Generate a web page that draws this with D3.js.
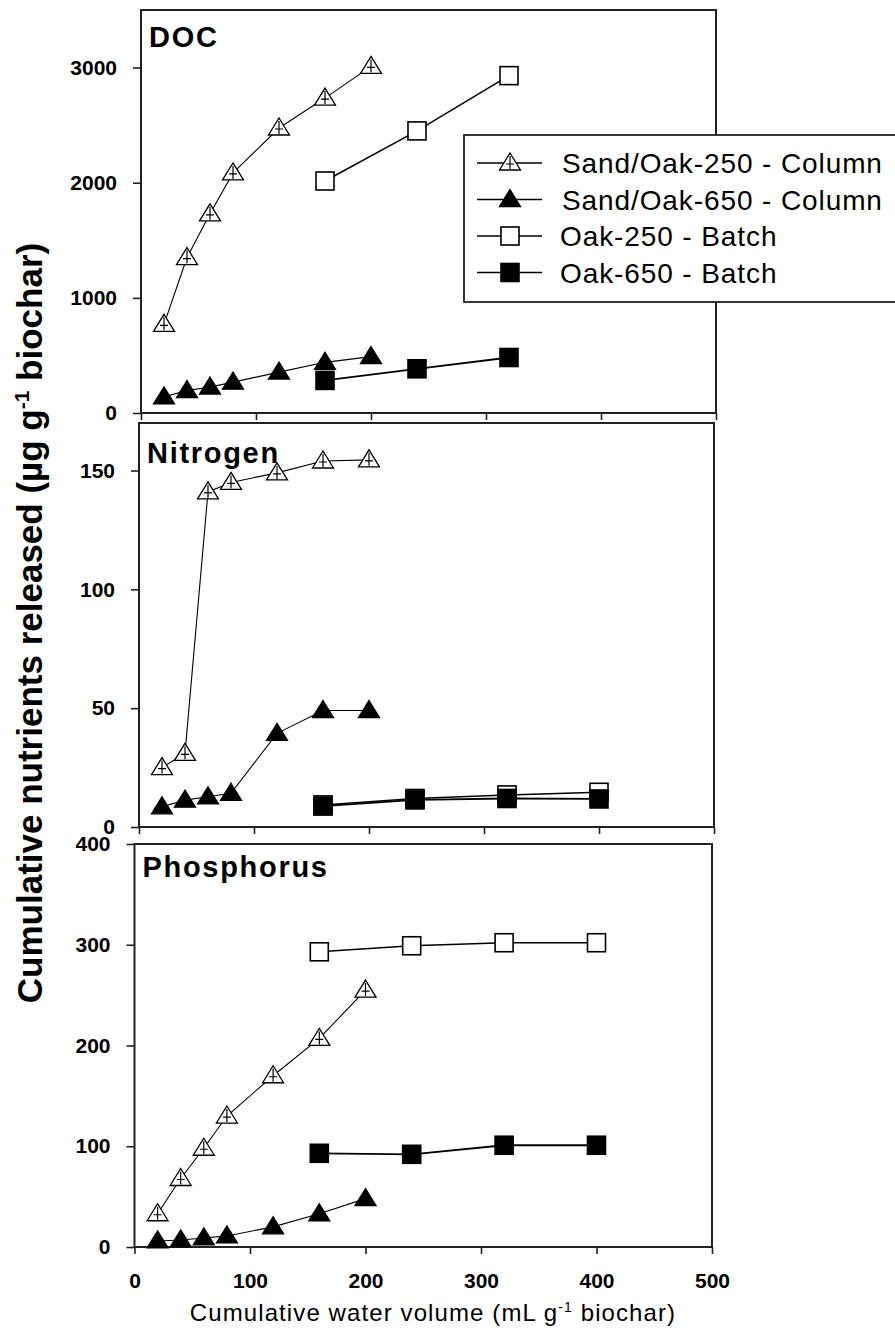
<!DOCTYPE html>
<html>
<head>
<meta charset="utf-8">
<script src="https://cdn.jsdelivr.net/npm/d3@7"></script>
<style>
  body { margin: 0; background: #fff; }
  text { font-family: "Liberation Sans", Arial, sans-serif; fill: #000; }
</style>
</head>
<body>
<div id="chart"></div>
<script>
// x values (cumulative water volume, mL g-1 biochar)
const xColumn = [20, 40, 60, 80, 120, 160, 200];
const xBatch = [160, 240, 320, 400];
const xTicks = [0, 100, 200, 300, 400, 500];

// DOC
const docSand250 = [770, 1350, 1730, 2085, 2475, 2735, 3010];
const docSand650 = [140, 195, 225, 268, 355, 440, 490];
const docOak250 = [2015, 2450, 2930];
const docOak650 = [283, 384, 482];
const docTicks = [0, 1000, 2000, 3000];

// Nitrogen
const nSand250 = [25, 31, 141, 145, 149, 154, 154.5];
const nSand650 = [8.5, 11.3, 12.7, 14.2, 39.4, 49, 49];
const nOak250 = [9.3, 12, 13.5, 14.6];
const nOak650 = [8.8, 11.4, 12, 11.8];
const nTicks = [0, 50, 100, 150];

// Phosphorus
const pSand250 = [33, 68, 98, 130, 170, 207, 255];
const pSand650 = [6, 7, 9, 11, 20, 33, 48];
const pOak250 = [293, 299, 302, 302];
const pOak650 = [93, 92, 101, 101];
const pTicks = [0, 100, 200, 300, 400];

const legendLabels = ["Sand/Oak-250 - Column", "Sand/Oak-650 - Column", "Oak-250 - Batch", "Oak-650 - Batch"];
const legendKinds = ["openTri", "fillTri", "openSq", "fillSq"];

const zip = (xs, ys) => ys.map((v, i) => [xs[i], v]);

const panels = [
    { title: "DOC", left: 141, right: 716, top: 10, bottom: 413, yMax: 3500, ticks: docTicks, titleDy: 37,
      sand250: docSand250, sand650: docSand650, oak250: docOak250, oak650: docOak650 },
    { title: "Nitrogen", left: 139, right: 714, top: 423, bottom: 827, yMax: 170, ticks: nTicks, titleDy: 40,
      sand250: nSand250, sand650: nSand650, oak250: nOak250, oak650: nOak650 },
    { title: "Phosphorus", left: 134.5, right: 712, top: 844, bottom: 1247, yMax: 400, ticks: pTicks, titleDy: 33,
      sand250: pSand250, sand650: pSand650, oak250: pOak250, oak650: pOak650, showX: true }
];

const svg = d3.select("#chart").append("svg")
    .attr("width", 895)
    .attr("height", 1331);

// marker drawing
function drawMarker(g, kind, cx, cy) {
    if (kind === "openTri" || kind === "fillTri") {
        g.append("path")
            .attr("d", `M${cx},${cy - 10}L${cx + 10.5},${cy + 7}L${cx - 10.5},${cy + 7}Z`)
            .attr("fill", kind === "openTri" ? "#fff" : "#000")
            .attr("stroke", "#000")
            .attr("stroke-width", 1.3);
        if (kind === "openTri") {
            g.append("path")
                .attr("d", `M${cx},${cy - 7}V${cy + 6}M${cx - 4},${cy + 1}H${cx + 4}`)
                .attr("stroke", "#000")
                .attr("stroke-width", 1.2);
        }
    } else {
        g.append("rect")
            .attr("x", cx - 9).attr("y", cy - 9)
            .attr("width", 18).attr("height", 18)
            .attr("fill", kind === "openSq" ? "#fff" : "#000")
            .attr("stroke", "#000")
            .attr("stroke-width", 1.6);
    }
}

panels.forEach(p => {
    const x = d3.scaleLinear().domain([0, 500]).range([p.left, p.right]);
    const y = d3.scaleLinear().domain([0, p.yMax]).range([p.bottom, p.top]);
    const g = svg.append("g");

    // y axis
    const ya = g.append("g")
        .attr("transform", `translate(${p.left},0)`)
        .call(d3.axisLeft(y).tickValues(p.ticks).tickSize(8).tickSizeOuter(0).tickPadding(16)
            .tickFormat(d3.format("d")));
    ya.select(".domain").remove();
    ya.selectAll(".tick line").attr("stroke", "#222").attr("stroke-width", 1.6);
    ya.selectAll(".tick text")
        .style("font-size", "21px").style("font-weight", "bold")
        .style("font-family", '"Liberation Sans", Arial, sans-serif')
        .attr("fill", "#000");

    // x axis
    const xa = g.append("g")
        .attr("transform", `translate(0,${p.bottom})`)
        .call(d3.axisBottom(x).tickValues(xTicks).tickSize(7).tickSizeOuter(0).tickPadding(19)
            .tickFormat(p.showX ? d3.format("d") : () => ""));
    xa.select(".domain").remove();
    xa.selectAll(".tick line").attr("stroke", "#222").attr("stroke-width", 1.6);
    xa.selectAll(".tick text")
        .style("font-size", "21px").style("font-weight", "bold")
        .style("font-family", '"Liberation Sans", Arial, sans-serif')
        .attr("fill", "#000");

    // frame
    g.append("rect")
        .attr("x", p.left).attr("y", p.top)
        .attr("width", p.right - p.left).attr("height", p.bottom - p.top)
        .attr("fill", "none").attr("stroke", "#222").attr("stroke-width", 2);

    // panel title
    g.append("text")
        .attr("x", p.left + 8).attr("y", p.top + p.titleDy)
        .style("font-size", "29px").style("font-weight", "bold")
        .style("letter-spacing", "1.7px")
        .text(p.title);

    const line = d3.line().x(d => x(d[0])).y(d => y(d[1]));
    const series = [
        { kind: "openSq", data: zip(xBatch, p.oak250), w: 1.5 },
        { kind: "fillSq", data: zip(xBatch, p.oak650), w: 1.8 },
        { kind: "fillTri", data: zip(xColumn, p.sand650), w: 1.1 },
        { kind: "openTri", data: zip(xColumn, p.sand250), w: 1.1 }
    ];
    series.forEach(s => {
        const sg = g.append("g");
        sg.append("path")
            .datum(s.data)
            .attr("d", line)
            .attr("fill", "none")
            .attr("stroke", "#000")
            .attr("stroke-width", s.w);
        s.data.forEach(d => drawMarker(sg, s.kind, x(d[0]), y(d[1])));
    });
});

// legend
const lg = svg.append("g");
lg.append("rect")
    .attr("x", 464).attr("y", 135)
    .attr("width", 500).attr("height", 167)
    .attr("fill", "#fff").attr("stroke", "#222").attr("stroke-width", 1.8);
legendLabels.forEach((lab, i) => {
    const cy = 163 + i * 36.5;
    lg.append("line")
        .attr("x1", 477).attr("x2", 542).attr("y1", cy).attr("y2", cy)
        .attr("stroke", "#000").attr("stroke-width", 1.3);
    drawMarker(lg, legendKinds[i], 510, cy);
    lg.append("text")
        .attr("x", i < 2 ? 562 : 560).attr("y", cy + 10)
        .style("font-size", "28px")
        .style("letter-spacing", "0.9px")
        .text(lab);
});

// y axis title
const yt = svg.append("text")
    .attr("transform", "translate(42,623) rotate(-90)")
    .attr("text-anchor", "middle")
    .style("font-size", "35px").style("font-weight", "bold");
yt.append("tspan").text("Cumulative nutrients released (µg g");
yt.append("tspan").attr("dy", -13).style("font-size", "21px").text("-1");
yt.append("tspan").attr("dy", 13).text(" biochar)");

// x axis title
const xt = svg.append("text")
    .attr("x", 433).attr("y", 1321)
    .attr("text-anchor", "middle")
    .style("font-size", "24px")
    .style("letter-spacing", "1.1px");
xt.append("tspan").text("Cumulative water volume (mL g");
xt.append("tspan").attr("dy", -9).style("font-size", "14px").text("-1");
xt.append("tspan").attr("dy", 9).text(" biochar)");
</script>
</body>
</html>
